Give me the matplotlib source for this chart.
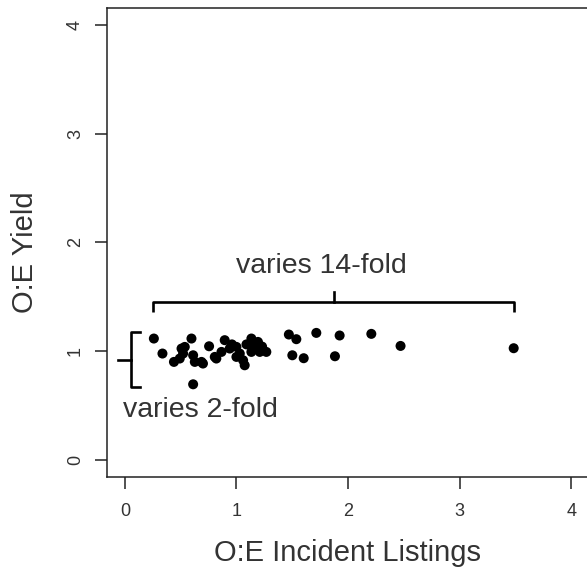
import matplotlib
matplotlib.use("Agg")
import matplotlib.pyplot as plt

plt.rcParams['font.family'] = ['Liberation Sans', 'DejaVu Sans']

# O:E Incident Listings (x) and O:E Yield (y)
incident = [0.26, 0.337, 0.44, 0.492, 0.508, 0.522, 0.537, 0.597, 0.612, 0.612,
            0.627, 0.687, 0.70, 0.755, 0.806, 0.82, 0.866, 0.895, 0.94, 0.96,
            1.0, 1.0, 1.03, 1.06, 1.074, 1.09, 1.134, 1.134, 1.164, 1.193,
            1.209, 1.23, 1.268, 1.47, 1.501, 1.537, 1.603, 1.716, 1.883, 1.925,
            2.209, 2.471, 3.485]
yield_oe = [1.114, 0.976, 0.899, 0.930, 1.022, 0.976, 1.037, 1.114, 0.960, 0.693,
            0.899, 0.899, 0.884, 1.043, 0.945, 0.930, 0.991, 1.099, 1.022, 1.06,
            1.037, 0.945, 0.976, 0.914, 0.868, 1.06, 1.114, 0.991, 1.052, 1.083,
            0.991, 1.04, 0.991, 1.151, 0.960, 1.108, 0.933, 1.166, 0.951, 1.142,
            1.157, 1.046, 1.025]

ticks = [0, 1, 2, 3, 4]
xlabel = "O:E Incident Listings"
ylabel = "O:E Yield"
label_wide = "varies 14-fold"
label_narrow = "varies 2-fold"

TXT = '#333333'
W, H = 587, 567
fig = plt.figure(figsize=(W/100, H/100), dpi=100)
ax = fig.add_axes([107/W, 90/H, 482/W, 469.5/H])

ax.scatter(incident, yield_oe, s=52, color='black', edgecolors='none', zorder=3)

ax.set_xlim(-0.16, 4.16)
ax.set_ylim(-0.16, 4.16)
ax.set_xticks(ticks)
ax.set_yticks(ticks)
ax.set_xticklabels([str(t) for t in ticks], fontsize=13, color=TXT)
ax.set_yticklabels([str(t) for t in ticks], fontsize=13, rotation=90, va='center', color=TXT)
ax.tick_params(axis='both', length=8.6, width=1.1, color='#222222')
ax.tick_params(axis='x', pad=10)
ax.tick_params(axis='y', pad=8)
for s in ax.spines.values():
    s.set_linewidth(1.1)
    s.set_color('#222222')

fig.text(348/W, 6/H, xlabel, ha='center', va='baseline', fontsize=21, color=TXT)
fig.text(33/W, 1 - 252.5/H, ylabel, ha='center', va='baseline', rotation=90,
         rotation_mode='anchor', fontsize=21, color=TXT)

# bracket spanning incident listings
bx0, bx1, bxc = 0.248, 3.49, 1.871
by, by_lo, by_hi = 1.451, 1.359, 1.543
ax.plot([bx0, bx0, bx1, bx1], [by_lo, by, by, by_lo], color='black', lw=1.9,
        solid_joinstyle='round', solid_capstyle='butt', clip_on=False)
ax.plot([bxc, bxc], [by, by_hi], color='black', lw=1.9, clip_on=False)
ax.text(1.76, 1.713, label_wide, ha='center', va='baseline', fontsize=20.5, color=TXT)

# bracket spanning yield
lx, lx_end, lx_tip = 0.051, 0.134, -0.06
ly0, ly1, lyc = 0.669, 1.175, 0.921
ax.plot([lx_end, lx, lx, lx_end], [ly1, ly1, ly0, ly0], color='black', lw=1.9,
        solid_joinstyle='round', clip_on=False)
ax.plot([lx_tip, lx], [lyc, lyc], color='black', lw=1.9, clip_on=False)
ax.text(-0.015, 0.392, label_narrow, ha='left', va='baseline', fontsize=20.5, color=TXT)

fig.savefig("out.png", dpi=100)
